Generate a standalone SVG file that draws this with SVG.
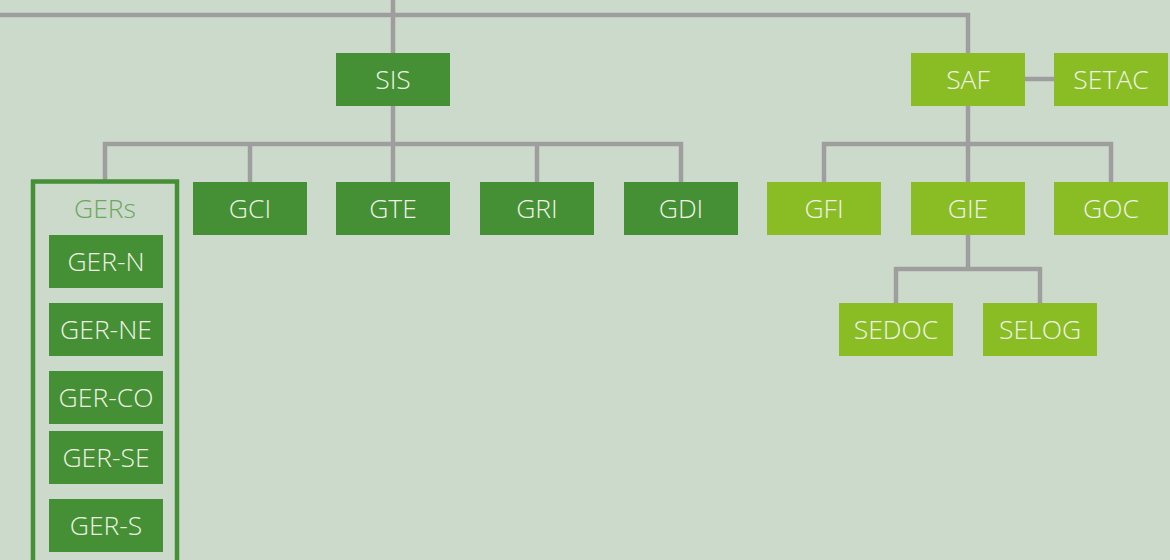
<svg xmlns="http://www.w3.org/2000/svg" width="1170" height="560" viewBox="0 0 1170 560">
<style>
.bg{fill:#ccdacb}
.dk{fill:#458f34}
.lt{fill:#8abd24}
.t{font-family:"Open Sans","Liberation Sans",sans-serif;font-weight:300;font-size:26.5px;fill:#eef3e6;text-anchor:middle}
.c{fill:none;stroke:#9e9e9e;stroke-width:4.5}
.grp{fill:none;stroke:#458f34;stroke-width:4.5}
.gl{font-family:"Open Sans","Liberation Sans",sans-serif;font-weight:300;font-size:26.5px;fill:#6aa85c;text-anchor:middle}
</style>
<rect class="bg" x="0" y="0" width="1170" height="560"/>
<g id="connectors">
<path class="c" d="M0 15H968V53"/>
<path class="c" d="M393 0V53"/>
<path class="c" d="M393 106V182M105 181V144H681V182M250 144V182M537 144V182"/>
<path class="c" d="M968 106V182M824 182V144H1111V182"/>
<path class="c" d="M1025 79H1054"/>
<path class="c" d="M968 235V269M896 303V269H1040V303"/>
</g>
<g id="GERs">
<rect class="grp" x="33" y="181.5" width="144" height="390"/>
<text class="gl" x="105" y="218">GERs</text>
</g>
<g id="SIS"><rect class="dk" x="336" y="53" width="114" height="53"/><text class="t" x="393" y="89">SIS</text></g>
<g id="SAF"><rect class="lt" x="911" y="53" width="114" height="53"/><text class="t" x="968" y="89">SAF</text></g>
<g id="SETAC"><rect class="lt" x="1054" y="53" width="114" height="53"/><text class="t" x="1111" y="89">SETAC</text></g>
<g id="GCI"><rect class="dk" x="193" y="182" width="114" height="53"/><text class="t" x="250" y="218">GCI</text></g>
<g id="GTE"><rect class="dk" x="336" y="182" width="114" height="53"/><text class="t" x="393" y="218">GTE</text></g>
<g id="GRI"><rect class="dk" x="480" y="182" width="114" height="53"/><text class="t" x="537" y="218">GRI</text></g>
<g id="GDI"><rect class="dk" x="624" y="182" width="114" height="53"/><text class="t" x="681" y="218">GDI</text></g>
<g id="GFI"><rect class="lt" x="767" y="182" width="114" height="53"/><text class="t" x="824" y="218">GFI</text></g>
<g id="GIE"><rect class="lt" x="911" y="182" width="114" height="53"/><text class="t" x="968" y="218">GIE</text></g>
<g id="GOC"><rect class="lt" x="1054" y="182" width="114" height="53"/><text class="t" x="1111" y="218">GOC</text></g>
<g id="SEDOC"><rect class="lt" x="839" y="303" width="114" height="53"/><text class="t" x="896" y="339">SEDOC</text></g>
<g id="SELOG"><rect class="lt" x="983" y="303" width="114" height="53"/><text class="t" x="1040" y="339">SELOG</text></g>
<g id="GER-N"><rect class="dk" x="49" y="235" width="114" height="53"/><text class="t" x="106" y="271">GER-N</text></g>
<g id="GER-NE"><rect class="dk" x="49" y="303" width="114" height="53"/><text class="t" x="106" y="339">GER-NE</text></g>
<g id="GER-CO"><rect class="dk" x="49" y="371" width="114" height="53"/><text class="t" x="106" y="407">GER-CO</text></g>
<g id="GER-SE"><rect class="dk" x="49" y="431" width="114" height="53"/><text class="t" x="106" y="467">GER-SE</text></g>
<g id="GER-S"><rect class="dk" x="49" y="499" width="114" height="53"/><text class="t" x="106" y="535">GER-S</text></g>
</svg>
